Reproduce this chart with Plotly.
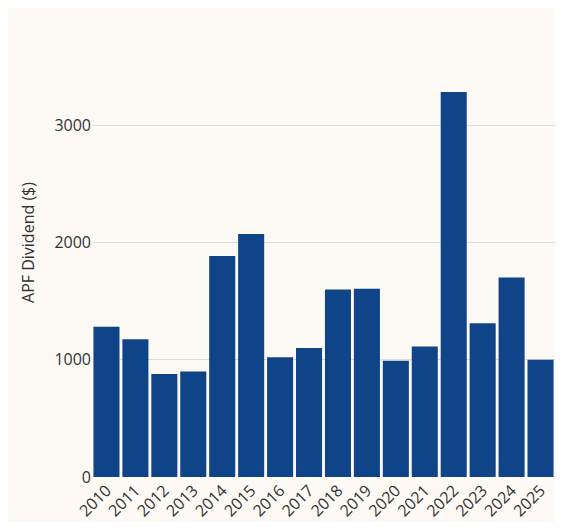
import plotly.graph_objects as go

years = [str(y) for y in range(2010, 2026)]
dividends = [1281, 1174, 878, 900, 1884, 2072, 1022, 1100, 1600, 1606, 992, 1114, 3284, 1312, 1702, 1000]

fig = go.Figure(go.Bar(x=years, y=dividends, marker_color="#0f4489", marker_line_width=0))
fig.update_layout(
    width=547, height=514,
    paper_bgcolor="#fdf9f5", plot_bgcolor="#fdf9f5",
    margin=dict(l=84, r=0, t=0, b=45, pad=0),
    bargap=0.1,
    font=dict(family="Open Sans", size=16, color="#333"),
    showlegend=False,
)
fig.update_yaxes(range=[0, 4000], dtick=1000, gridcolor="#dcdcdc", zeroline=False,
                 title=dict(text="APF Dividend ($)", font=dict(size=16)), ticklen=0,
                 automargin=False)
fig.update_xaxes(tickangle=-45, showgrid=False, automargin=False)
fig.write_html("out.html", config={"responsive": False},
               default_width="547px", default_height="514px")
